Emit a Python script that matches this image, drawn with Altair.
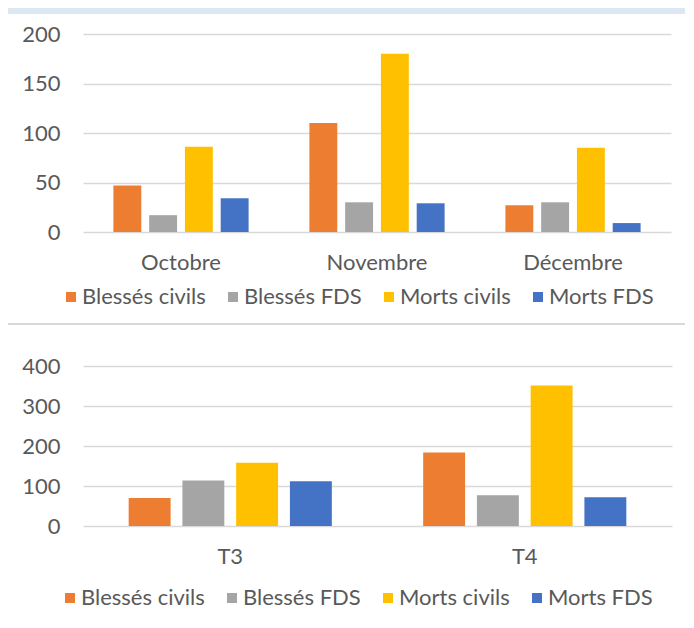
import altair as alt
import pandas as pd

# ---- data ----
months = ["Octobre", "Novembre", "Décembre"]
quarters = ["T3", "T4"]
series = ["Blessés civils", "Blessés FDS", "Morts civils", "Morts FDS"]
colors = ["#ED7D31", "#A5A5A5", "#FFC000", "#4472C4"]

blesses_civils_mois = [47, 110, 27]
blesses_fds_mois = [17, 30, 30]
morts_civils_mois = [86, 180, 85]
morts_fds_mois = [34, 29, 9]

blesses_civils_trim = [70, 184]
blesses_fds_trim = [114, 77]
morts_civils_trim = [158, 351]
morts_fds_trim = [112, 72]

month_ticks = [0, 50, 100, 150, 200]
quarter_ticks = [0, 100, 200, 300, 400]

FONT = "Lato"
TXT = "#595959"


def long_table(cats, cols):
    rows = []
    for s, vals in zip(series, cols):
        for c, v in zip(cats, vals):
            rows.append({"cat": c, "serie": s, "val": v})
    return pd.DataFrame(rows)


df_m = long_table(months, [blesses_civils_mois, blesses_fds_mois, morts_civils_mois, morts_fds_mois])
df_t = long_table(quarters, [blesses_civils_trim, blesses_fds_trim, morts_civils_trim, morts_fds_trim])


def bars(df, cats, ticks, legend_x, legend_y):
    return alt.Chart(df).mark_bar().encode(
        x=alt.X("cat:N", sort=cats, title=None,
                scale=alt.Scale(paddingInner=0.27, paddingOuter=0.135),
                axis=alt.Axis(labelAngle=0, ticks=False, domain=False, grid=False,
                              labelPadding=20, labelFontSize=22, labelFont=FONT,
                              labelColor=TXT)),
        xOffset=alt.XOffset("serie:N", sort=series,
                            scale=alt.Scale(paddingInner=0.22, paddingOuter=0.11)),
        y=alt.Y("val:Q", title=None,
                scale=alt.Scale(domain=[ticks[0], ticks[-1]], nice=False),
                axis=alt.Axis(values=ticks, ticks=False, tickSize=0, domain=False,
                              grid=True, gridColor="#d9d9d9", gridWidth=1.5,
                              labelPadding=23, labelFontSize=22, labelFont=FONT,
                              labelColor=TXT)),
        color=alt.Color("serie:N", sort=series,
                        scale=alt.Scale(domain=series, range=colors),
                        legend=alt.Legend(title=None, orient="none", direction="horizontal",
                                          legendX=legend_x, legendY=legend_y,
                                          symbolType="square", symbolSize=100,
                                          symbolStrokeWidth=0, labelFontSize=22,
                                          labelFont=FONT, labelColor=TXT, labelOffset=0,
                                          columnPadding=16, padding=0)),
    )


one = alt.Data(values=[{}])

top_strip = alt.Chart(one).mark_rect(color="#dde7f3").encode(
    x=alt.value(-75), x2=alt.value(602), y=alt.value(-26), y2=alt.value(-20))
top_divider = alt.Chart(one).mark_rect(color="#d9d9d9").encode(
    x=alt.value(-75), x2=alt.value(602), y=alt.value(289), y2=alt.value(291))

top = alt.layer(top_strip, top_divider,
                bars(df_m, months, month_ticks, -23, 252)).properties(width=588, height=198)

bottom_frame = alt.Chart(one).mark_rect(fill="white", fillOpacity=0).encode(
    x=alt.value(-75), x2=alt.value(602), y=alt.value(-41), y2=alt.value(246))

bottom = alt.layer(bottom_frame,
                   bars(df_t, quarters, quarter_ticks, -24, 221)).properties(width=589, height=160)

chart = (
    alt.vconcat(top, bottom, spacing=0)
    .resolve_scale(color="independent", x="independent", y="independent", xOffset="independent")
    .resolve_legend(color="independent")
    .configure(background="white", padding=0)
    .configure_view(stroke=None)
)

chart.save("out.html", embed_options={"renderer": "svg", "actions": False})
